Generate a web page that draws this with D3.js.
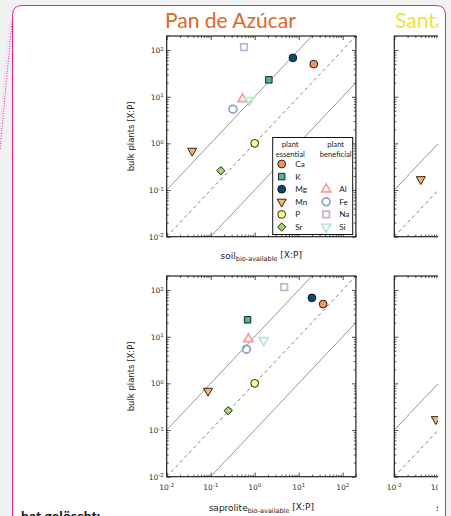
<!DOCTYPE html>
<html>
<head>
<meta charset="utf-8">
<script src="https://cdn.jsdelivr.net/npm/d3@7"></script>
<style>
  body { margin: 0; background: #f1f1f1; }
  svg { display: block; }
</style>
</head>
<body>
<script>
// element ratios X:P
var elements = ["Ca", "K", "Mg", "Mn", "P", "Sr", "Al", "Fe", "Na", "Si"];
var essential = ["Ca", "K", "Mg", "Mn", "P", "Sr"];
var beneficial = ["Al", "Fe", "Na", "Si"];
var bulkPlants = [50, 23, 68, 0.69, 1.0, 0.26, 8.9, 5.4, 115, 8.4];
var soilPDA = [22, 2.1, 7.4, 0.038, 1.0, 0.17, 0.53, 0.32, 0.57, 0.76];
var saprolitePDA = [36, 0.69, 20, 0.087, 1.0, 0.25, 0.72, 0.65, 4.7, 1.6];
// second site, only Mn is visible in the crop
var santaElements = ["Mn"];
var santaBulk = [0.17];
var santaSoil = [0.04];
var santaSaprolite = [0.088];
var majorTicks = [0.01, 0.1, 1, 10, 100];
var exps = ["-2", "-1", "0", "1", "2"];

var colour = {
  Ca: "#fc8d62", K: "#4db399", Mg: "#0a4a6e", Mn: "#fdae61", P: "#ffff8c", Sr: "#a6d96a",
  Al: "#ff9a9a", Fe: "#8da0cb", Na: "#c9aed6", Si: "#b9e6cf"
};
var shape = {
  Ca: "circle", K: "square", Mg: "circle", Mn: "down", P: "circle", Sr: "diamond",
  Al: "up", Fe: "circle", Na: "square", Si: "down"
};

var W = 451, H = 516;
var svg = d3.select("body").append("svg").attr("width", W).attr("height", H);

// page background and annotation card
svg.append("rect").attr("width", W).attr("height", H).attr("fill", "#f1f1f1");
svg.append("path")
  .attr("d", "M12.5," + (H + 5) + " L12.5,15 Q12.5,5.5 22,5.5 L436,5.5 Q445.5,5.5 445.5,15 L445.5," + (H + 5))
  .attr("fill", "#fff").attr("stroke", "#e6239b").attr("stroke-width", 1);
svg.append("line").attr("x1", 12).attr("y1", 21).attr("x2", 0).attr("y2", 150)
  .attr("stroke", "#e6239b").attr("stroke-width", 1).attr("stroke-dasharray", "1,1.5");
svg.append("line").attr("x1", 9.5).attr("y1", 24).attr("x2", -1).attr("y2", 140)
  .attr("stroke", "#f3a6d2").attr("stroke-width", 0.8).attr("stroke-dasharray", "1,2");
svg.append("text").attr("x", 21).attr("y", 521)
  .style("font-family", "Lato, sans-serif").style("font-weight", "bold").style("font-size", "14px")
  .attr("fill", "#111").text("hat gelöscht:");

svg.append("clipPath").attr("id", "figclip")
  .append("rect").attr("x", 0).attr("y", 0).attr("width", 438).attr("height", H);
var fig = svg.append("g").attr("clip-path", "url(#figclip)");

fig.append("text").attr("x", 165).attr("y", 28)
  .style("font-family", "Lato, sans-serif").style("font-size", "21px")
  .attr("fill", "#de681f").text("Pan de Azúcar");
fig.append("text").attr("x", 395).attr("y", 28)
  .style("font-family", "Lato, sans-serif").style("font-size", "21px")
  .attr("fill", "#efe243").text("Santa Gracia");

function symbolPath(s) {
  if (s == "circle") return d3.symbol(d3.symbolCircle, 48)();
  if (s == "square" || s == "diamond") return d3.symbol(d3.symbolSquare, s == "square" ? 42 : 34)();
  return d3.symbol(d3.symbolTriangle, 36)();
}
function drawMarker(g, el, px, py) {
  var open = beneficial.indexOf(el) >= 0;
  var rot = shape[el] == "down" ? " rotate(180)" : (shape[el] == "diamond" ? " rotate(45)" : "");
  g.append("path")
    .attr("d", symbolPath(shape[el]))
    .attr("transform", "translate(" + px + "," + py + ")" + rot)
    .attr("fill", open ? "none" : colour[el])
    .attr("stroke", open ? colour[el] : "#111")
    .attr("stroke-width", open ? 1.7 : 0.9);
}

function minorTicks() {
  var m = [];
  majorTicks.forEach(function(t) {
    for (var k = 2; k <= 9; k++) if (t * k <= 200) m.push(t * k);
  });
  return m;
}

function tickLabel(sel, i) {
  sel.append("tspan").text("10");
  sel.append("tspan").attr("dy", "-0.45em").style("font-size", "5.5px").text(exps[i]);
}

function drawPanel(x0, y0, opts) {
  var x = d3.scaleLog().domain([0.01, 200]).range([x0, x0 + 189.2]);
  var y = d3.scaleLog().domain([0.01, 200]).range([y0 + 200.7, y0]);
  var g = fig.append("g");
  var left = x0, right = x0 + 189.2, top = y0, bottom = y0 + 200.7;

  // reference lines 1:1, 10:1 and 1:10
  var lineGen = d3.line().x(function(d) { return x(d[0]); }).y(function(d) { return y(d[1]); });
  g.append("path").attr("d", lineGen([[0.01, 0.01], [200, 200]]))
    .attr("stroke", "#777").attr("stroke-width", 0.9).attr("stroke-dasharray", "3.5,3").attr("fill", "none");
  g.append("path").attr("d", lineGen([[0.01, 0.1], [20, 200]]))
    .attr("stroke", "#8a8a8a").attr("stroke-width", 0.9).attr("fill", "none");
  g.append("path").attr("d", lineGen([[0.1, 0.01], [200, 20]]))
    .attr("stroke", "#8a8a8a").attr("stroke-width", 0.9).attr("fill", "none");

  // inward ticks on all four sides
  var axes = [
    [d3.axisLeft(y), "translate(" + left + ",0)"],
    [d3.axisRight(y), "translate(" + right + ",0)"],
    [d3.axisBottom(x), "translate(0," + bottom + ")"],
    [d3.axisTop(x), "translate(0," + top + ")"]
  ];
  axes.forEach(function(a) {
    var major = g.append("g").attr("transform", a[1])
      .call(a[0].tickValues(majorTicks).tickSize(-4).tickFormat(""));
    var minor = g.append("g").attr("transform", a[1])
      .call(a[0].tickValues(minorTicks()).tickSize(-2).tickFormat(""));
    [major, minor].forEach(function(s) {
      s.select(".domain").remove();
      s.selectAll("line").attr("stroke", "#222").attr("stroke-width", 0.8);
    });
  });
  g.append("rect").attr("x", left).attr("y", top).attr("width", right - left).attr("height", bottom - top)
    .attr("fill", "none").attr("stroke", "#222").attr("stroke-width", 1.2);

  // y tick labels and title only on the first column
  if (opts.yLabels) {
    majorTicks.forEach(function(t, i) {
      var tx = g.append("text").attr("x", left - 3).attr("y", y(t) + 3)
        .attr("text-anchor", "end").style("font-family", "DejaVu Sans, sans-serif")
        .style("font-size", "7.5px").attr("fill", "#333");
      tickLabel(tx, i);
    });
    g.append("text")
      .attr("transform", "translate(" + (left - 33) + "," + ((top + bottom) / 2) + ") rotate(-90)")
      .attr("text-anchor", "middle").style("font-family", "DejaVu Sans, sans-serif")
      .style("font-size", "8.5px").attr("fill", "#222").text("bulk plants [X:P]");
  }
  if (opts.xTicks) {
    majorTicks.forEach(function(t, i) {
      var tx = g.append("text").attr("x", x(t)).attr("y", bottom + 13)
        .attr("text-anchor", "middle").style("font-family", "DejaVu Sans, sans-serif")
        .style("font-size", "7.5px").attr("fill", "#333");
      tickLabel(tx, i);
    });
  }

  var xl = g.append("text").attr("x", (left + right) / 2).attr("y", opts.labelY)
    .attr("text-anchor", "middle").style("font-family", "DejaVu Sans, sans-serif")
    .style("font-size", "9px").attr("fill", "#222");
  xl.append("tspan").text(opts.xName);
  xl.append("tspan").attr("dy", "0.35em").style("font-size", "6.5px").text("bio-available");
  xl.append("tspan").attr("dy", "-0.35em").text(" [X:P]");

  // data points
  opts.els.forEach(function(el, i) {
    drawMarker(g, el, x(opts.xs[i]), y(opts.ys[i]));
  });
  return g;
}

var p1 = drawPanel(166.7, 36, { yLabels: true, xTicks: false, labelY: 259, xName: "soil", els: elements, xs: soilPDA, ys: bulkPlants });
drawPanel(166.7, 276, { yLabels: true, xTicks: true, labelY: 511, xName: "saprolite", els: elements, xs: saprolitePDA, ys: bulkPlants });
drawPanel(394.3, 36, { yLabels: false, xTicks: false, labelY: 259, xName: "soil", els: santaElements, xs: santaSoil, ys: santaBulk });
drawPanel(394.3, 276, { yLabels: false, xTicks: true, labelY: 511, xName: "saprolite", els: santaElements, xs: santaSaprolite, ys: santaBulk });

// legend
var lg = p1.append("g").attr("transform", "translate(272.7,137.5)");
lg.append("rect").attr("width", 80).attr("height", 97)
  .attr("fill", "#fff").attr("stroke", "#111").attr("stroke-width", 1);
var lgFont = function(s, size) {
  return s.style("font-family", "Lato, sans-serif").style("font-size", (size || 8.2) + "px").attr("fill", "#222");
};
[["plant", "essential", 17.5], ["plant", "beneficial", 63]].forEach(function(h) {
  lgFont(lg.append("text").attr("x", h[2]).attr("y", 9.5).attr("text-anchor", "middle"), 7.6).text(h[0]);
  lgFont(lg.append("text").attr("x", h[2]).attr("y", 19.5).attr("text-anchor", "middle"), 7.6).text(h[1]);
});
essential.forEach(function(el, i) {
  var cy = 26.5 + i * 12.6;
  drawMarker(lg, el, 9, cy);
  lgFont(lg.append("text").attr("x", 22.5).attr("y", cy + 3)).text(el);
});
beneficial.forEach(function(el, i) {
  var cy = 26.5 + (i + 2) * 12.6;
  drawMarker(lg, el, 53.5, cy);
  lgFont(lg.append("text").attr("x", 66.5).attr("y", cy + 3)).text(el);
});
</script>
</body>
</html>
